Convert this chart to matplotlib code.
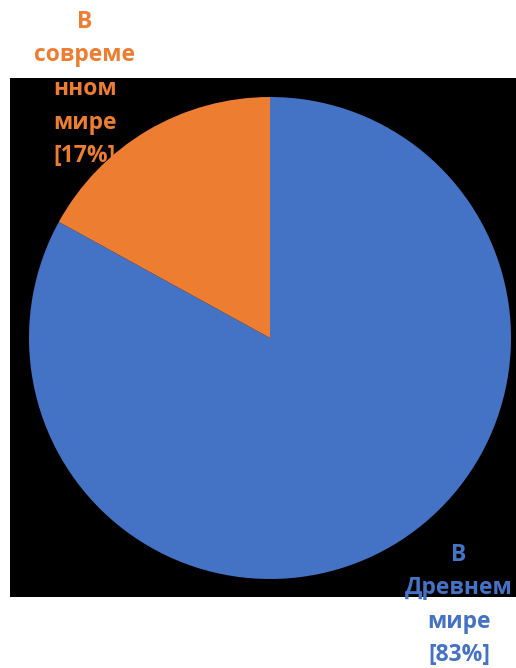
import matplotlib.pyplot as plt

# values (percent)
categories = ['В Древнем мире', 'В современном мире']
values = [83, 17]
label_lines = [['В', 'Древнем', 'мире'], ['В', 'совреме', 'нном', 'мире']]
colors = ['#4472C4', '#ED7D31']

W, H = 516, 668
fig = plt.figure(figsize=(W / 100, H / 100), dpi=100, facecolor='white')
# black plot area, in pixel units
left, top, right, bottom = 10, 78, 516, 597
ax = fig.add_axes([left / W, 1 - bottom / H, (right - left) / W, (bottom - top) / H])

ax.pie(values, colors=colors, startangle=90, counterclock=False,
       center=(270 - left, bottom - 338), radius=241,
       wedgeprops=dict(linewidth=0))
ax.set_xlim(0, right - left)
ax.set_ylim(0, bottom - top)
ax.set_aspect('equal')
ax.set_frame_on(True)
ax.patch.set_visible(True)
ax.set_facecolor('black')
for s in ax.spines.values():
    s.set_visible(False)
ax.set_xticks([])
ax.set_yticks([])

# data labels
positions = [(459 - left, bottom - 605), (85 - left, bottom - 89)]
for lines, v, c, (x, y) in zip(label_lines, values, colors, positions):
    txt = '\n'.join(lines + [f'[{v}%]'])
    ax.text(x, y, txt, color=c, ha='center', va='center', fontsize=16.5,
            fontweight='bold', family='Open Sans', linespacing=1.53,
            clip_on=False)

fig.savefig('out.png', dpi=100, facecolor='white')
